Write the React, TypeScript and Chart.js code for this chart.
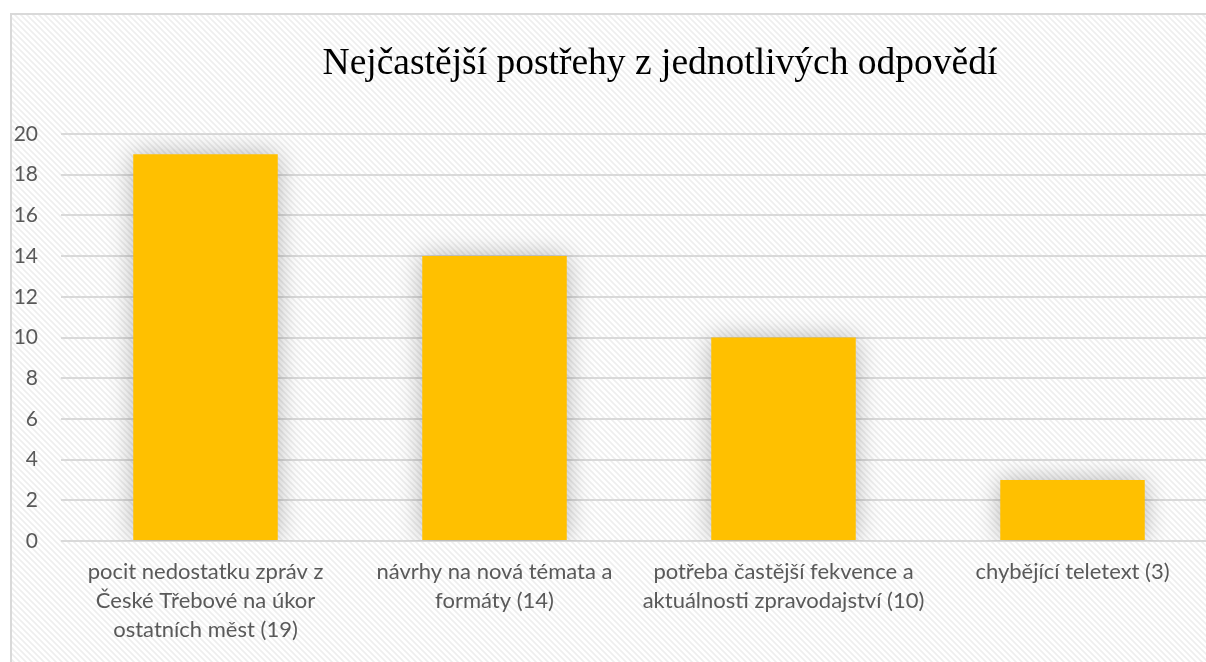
import React, { useEffect, useRef } from "react";
import { Chart, registerables } from "chart.js";

Chart.register(...registerables);

const chartTitle = "Nejčastější postřehy z jednotlivých odpovědí";
const categories: string[][] = [
  ["pocit nedostatku zpráv z", "České Třebové na úkor", "ostatních měst (19)"],
  ["návrhy na nová témata a", "formáty (14)"],
  ["potřeba častější fekvence a", "aktuálnosti zpravodajství (10)"],
  ["chybějící teletext (3)"],
];
const values: number[] = [19, 14, 10, 3];
const yMin = 0;
const yMax = 20;
const yStep = 2;

const CANVAS_W = 1240;
const CANVAS_H = 662;

function makePattern(ctx: CanvasRenderingContext2D): CanvasPattern | string {
  const tile = document.createElement("canvas");
  tile.width = 6;
  tile.height = 6;
  const t = tile.getContext("2d");
  if (!t) return "#fafafa";
  t.fillStyle = "#ffffff";
  t.fillRect(0, 0, 6, 6);
  t.strokeStyle = "#eeeeee";
  t.lineWidth = 1.6;
  t.beginPath();
  t.moveTo(-3, -3);
  t.lineTo(9, 9);
  t.moveTo(-9, -3);
  t.lineTo(3, 9);
  t.moveTo(3, -3);
  t.lineTo(15, 9);
  t.stroke();
  return ctx.createPattern(tile, "repeat") || "#fafafa";
}

const backgroundPlugin = {
  id: "bgPattern",
  beforeDraw(chart: any) {
    const ctx = chart.ctx as CanvasRenderingContext2D;
    ctx.save();
    ctx.fillStyle = "#ffffff";
    ctx.fillRect(0, 0, chart.width, chart.height);
    ctx.fillStyle = makePattern(ctx);
    ctx.fillRect(11, 14, chart.width, chart.height);
    ctx.strokeStyle = "#d9d9d9";
    ctx.lineWidth = 2;
    ctx.strokeRect(11, 14, chart.width + 20, chart.height + 20);
    ctx.restore();
  },
};

const shadowPlugin = {
  id: "barShadow",
  beforeDatasetsDraw(chart: any) {
    const ctx = chart.ctx as CanvasRenderingContext2D;
    ctx.save();
    ctx.shadowColor = "rgba(0,0,0,0.28)";
    ctx.shadowBlur = 24;
    ctx.shadowOffsetX = 0;
    ctx.shadowOffsetY = 0;
  },
  afterDatasetsDraw(chart: any) {
    chart.ctx.restore();
  },
};

const titlePlugin = {
  id: "customTitle",
  afterDraw(chart: any) {
    const ctx = chart.ctx as CanvasRenderingContext2D;
    ctx.save();
    ctx.fillStyle = "#000000";
    ctx.font = '37.5px "Liberation Serif", "Times New Roman", serif';
    ctx.textAlign = "center";
    ctx.textBaseline = "alphabetic";
    ctx.fillText(chartTitle, 660, 74);
    ctx.restore();
  },
};

export default function App() {
  const ref = useRef<HTMLCanvasElement | null>(null);

  useEffect(() => {
    if (!ref.current) return;
    const chart = new Chart(ref.current, {
      type: "bar",
      data: {
        labels: categories,
        datasets: [
          {
            data: values,
            backgroundColor: "#FFC000",
            borderWidth: 0,
            barPercentage: 0.5,
            categoryPercentage: 1,
          },
        ],
      },
      options: {
        animation: false,
        responsive: false,
        devicePixelRatio: 1,
        layout: { padding: { top: 134, left: 0, right: 23, bottom: 0 } },
        plugins: {
          legend: { display: false },
          title: { display: false },
          tooltip: { enabled: false },
        },
        scales: {
          x: {
            grid: { display: false, drawTicks: false },
            border: { display: false },
            ticks: {
              color: "#595959",
              font: { family: 'Lato, "Open Sans", sans-serif', size: 22, lineHeight: 1.32 },
              padding: 16,
              maxRotation: 0,
              autoSkip: false,
            },
            afterFit: (scale: any) => {
              scale.height = CANVAS_H - 541;
            },
          },
          y: {
            min: yMin,
            max: yMax,
            grid: { color: "#d9d9d9", lineWidth: 2, drawTicks: false },
            border: { display: false },
            ticks: {
              stepSize: yStep,
              color: "#595959",
              font: { family: 'Lato, "Open Sans", sans-serif', size: 21 },
              padding: 23,
            },
            afterFit: (scale: any) => {
              scale.width = 61;
            },
          },
        },
      },
      plugins: [backgroundPlugin, shadowPlugin, titlePlugin],
    });
    return () => chart.destroy();
  }, []);

  return (
    <div
      style={{
        position: "fixed",
        top: 0,
        left: 0,
        width: 1206,
        height: 662,
        overflow: "hidden",
        background: "#ffffff",
      }}
    >
      <canvas ref={ref} width={CANVAS_W} height={CANVAS_H} style={{ display: "block" }} />
    </div>
  );
}
